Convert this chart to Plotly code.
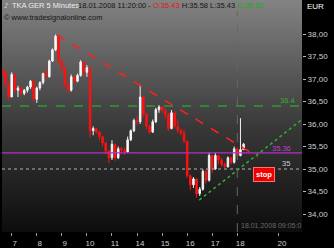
import plotly.graph_objects as go

# ---------------- data ----------------
day_labels = ['7', '8', '9', '10', '11', '14', '15', '16', '17', '18', '20']
day_positions = [0, 1, 2, 3, 4, 5, 6, 7, 8, 9, 10.66]   # trading-day index of each label

bar_start = -0.375          # first bar (trading-day index)
bar_step = 0.125            # bar spacing in trading days
first_open = 37.20

closes = [37.15, 36.90, 36.60, 37.10, 36.75, 36.80, 36.68, 36.75, 36.82, 36.95,
          36.55, 36.80, 36.92, 37.12, 37.05, 37.40, 37.65, 37.95, 37.40, 37.25,
          36.88, 36.75, 37.05, 36.95, 37.08, 37.38, 37.15, 37.25, 35.85, 35.90,
          35.82, 35.72, 35.58, 35.40, 35.25, 35.55, 35.25, 35.45, 35.42, 35.38,
          35.65, 35.85, 36.08, 36.05, 36.60, 36.22, 35.95, 35.82, 36.05, 36.32,
          36.38, 36.30, 36.22, 35.90, 36.25, 35.95, 35.85, 35.80, 35.62, 34.85,
          34.65, 34.78, 34.45, 34.55, 34.95, 34.75, 35.30, 35.00, 35.30, 35.20,
          35.10, 35.05, 35.25, 35.15, 35.45, 35.30, 35.43, 35.55]
highs = [37.25, 37.15, 36.90, 37.15, 37.10, 36.85, 36.82, 36.78, 36.85, 36.98,
         36.95, 36.83, 36.95, 37.14, 37.24, 37.43, 37.68, 37.99, 37.98, 37.42,
         37.25, 36.90, 37.10, 37.06, 37.12, 37.42, 37.38, 37.31, 37.25, 35.95,
         35.92, 35.85, 35.74, 35.60, 35.42, 35.64, 35.56, 35.50, 35.50, 35.48,
         35.72, 35.88, 36.12, 36.18, 36.87, 36.62, 36.25, 35.98, 36.10, 36.36,
         36.42, 36.40, 36.35, 36.25, 36.31, 36.28, 36.10, 35.90, 35.87, 35.62,
         34.88, 34.82, 34.78, 34.60, 34.99, 34.98, 35.36, 35.32, 35.36, 35.30,
         35.25, 35.15, 35.28, 35.27, 35.50, 35.48, 36.13, 35.58]
lows = [37.05, 36.85, 36.53, 36.60, 36.70, 36.60, 36.65, 36.64, 36.70, 36.78,
        36.50, 36.47, 36.75, 36.88, 37.00, 37.03, 37.38, 37.62, 37.35, 37.15,
        36.82, 36.69, 36.72, 36.90, 36.93, 37.05, 37.10, 37.05, 35.70, 35.75,
        35.78, 35.65, 35.50, 35.33, 35.13, 35.20, 35.18, 35.22, 35.33, 35.32,
        35.36, 35.62, 35.82, 35.98, 36.00, 36.15, 35.88, 35.78, 35.80, 36.02,
        36.25, 36.25, 36.12, 35.85, 35.88, 35.90, 35.80, 35.75, 35.58, 34.80,
        34.53, 34.58, 34.36, 34.40, 34.52, 34.68, 34.72, 34.91, 34.98, 35.10,
        35.05, 35.02, 35.03, 35.10, 35.12, 35.25, 35.28, 35.43]

opens = [first_open] + closes[:-1]
times = [bar_start + bar_step * i for i in range(len(closes))]

resistance_level = 36.4
entry_level = 35.36
stop_level = 35.0
down_trend = {'x': [1.807, 9.82], 'y': [37.98, 35.27]}
up_trend = {'x': [7.48, 11.58], 'y': [34.31, 36.10]}
session_mark = 9.0

x_range = [-0.387, 11.58]
y_range = [33.6, 38.756]

FONT = 'Liberation Sans'

fig = go.Figure()

# gradient background on the base axes
fig.add_trace(go.Scatter(
    x=[x_range[0], x_range[1], x_range[1], x_range[0], x_range[0]],
    y=[y_range[0], y_range[0], y_range[1], y_range[1], y_range[0]],
    fill='toself', mode='lines', line=dict(width=0),
    fillgradient=dict(type='vertical',
                      colorscale=[[0, '#0d0d0d'], [0.45, '#383838'], [1, '#838383']]),
    hoverinfo='skip', showlegend=False, xaxis='x', yaxis='y'))

# candles on an overlaying pair of axes so they sit above the background
fig.add_trace(go.Candlestick(
    x=times, open=opens, high=highs, low=lows, close=closes,
    increasing=dict(line=dict(color='#f2f2f2', width=1), fillcolor='#ffffff'),
    decreasing=dict(line=dict(color='#ff1010', width=1), fillcolor='#ff1010'),
    whiskerwidth=0, showlegend=False, xaxis='x2', yaxis='y2'))

shapes = [
    dict(type='line', xref='paper', x0=0, x1=1, yref='y', y0=resistance_level, y1=resistance_level,
         line=dict(color='#2e9a2e', width=1.5, dash='dash')),
    dict(type='line', xref='paper', x0=0, x1=1, yref='y', y0=entry_level, y1=entry_level,
         line=dict(color='#b52fc4', width=1.2)),
    dict(type='line', xref='paper', x0=0, x1=1, yref='y', y0=stop_level, y1=stop_level,
         line=dict(color='#b0b0b0', width=1, dash='dot')),
    dict(type='line', xref='x', yref='y', x0=down_trend['x'][0], x1=down_trend['x'][1],
         y0=down_trend['y'][0], y1=down_trend['y'][1],
         line=dict(color='#ff2020', width=1.5, dash='dash')),
    dict(type='line', xref='x', yref='y', x0=up_trend['x'][0], x1=up_trend['x'][1],
         y0=up_trend['y'][0], y1=up_trend['y'][1],
         line=dict(color='#2fb02f', width=1.5, dash='dot')),
    dict(type='line', xref='x', yref='paper', x0=session_mark, x1=session_mark, y0=0, y1=0.955,
         line=dict(color='#666666', width=1, dash='dash')),
]


def px(xp):
    return (xp - 2) / 300.0


def py(yp):
    return 1 - yp / 232.0


annotations = [
    dict(text='EUR', x=px(305), y=py(7), xanchor='left', yanchor='middle',
         font=dict(size=8, color='#ffffff', family=FONT)),
    dict(text='♪', x=px(2), y=py(6), xanchor='left', yanchor='middle',
         font=dict(size=7, color='#e0e0e0', family='DejaVu Sans')),
    dict(text='TKA GER 5 Minutes', x=px(10), y=py(6), xanchor='left', yanchor='middle',
         font=dict(size=7.5, color='#ececec', family=FONT)),
    dict(text="18.01.2008 11:20:00 - <span style='color:#e81010'>O:35.43</span> H:35.58 L:35.43 "
              "<span style='color:#18b018'>C:35.55</span>",
         x=px(76), y=py(6), xanchor='left', yanchor='middle',
         font=dict(size=7.5, color='#151515', family=FONT)),
    dict(text='© www.tradesignalonline.com', x=px(2), y=py(17), xanchor='left', yanchor='middle',
         font=dict(size=7.5, color='#151515', family=FONT)),
    dict(text='36.4', xref='x', yref='y', x=11.38, y=resistance_level, xanchor='right', yanchor='bottom',
         font=dict(size=7.5, color='#35b035', family=FONT), yshift=-1),
    dict(text='35.36', xref='x', yref='y', x=11.22, y=entry_level, xanchor='right', yanchor='bottom',
         font=dict(size=7.5, color='#c040d0', family=FONT), yshift=-2),
    dict(text='35', xref='x', yref='y', x=11.18, y=stop_level, xanchor='right', yanchor='bottom',
         font=dict(size=7.5, color='#c8c8c8', family=FONT), yshift=-1),
    dict(text='<b>stop</b>', xref='x', yref='y', x=10.06, y=34.87, xanchor='center', yanchor='middle',
         font=dict(size=7.5, color='#ffffff', family=FONT), bgcolor='#ee0000',
         bordercolor='#ff7070', borderwidth=1, borderpad=2),
    dict(text='18.01.2008 09:05:0', xref='x', yref='paper', x=session_mark + 0.05, y=0.005,
         xanchor='left', yanchor='bottom', font=dict(size=7, color='#6a6a6a', family=FONT)),
]
for a in annotations:
    a.setdefault('xref', 'paper')
    a.setdefault('yref', 'paper')
    a['showarrow'] = False

fig.update_layout(
    width=334, height=248,
    margin=dict(l=2, r=32, t=0, b=16),
    paper_bgcolor='#000000', plot_bgcolor='#000000',
    separators=',.',
    shapes=shapes, annotations=annotations,
    showlegend=False,
    xaxis=dict(range=x_range, tickvals=day_positions, ticktext=day_labels,
               ticks='outside', ticklen=3, tickcolor='#9a9a9a', ticklabelshift=3,
               tickfont=dict(size=8, color='#cfcfcf', family=FONT),
               showgrid=False, zeroline=False, showline=False, fixedrange=True),
    yaxis=dict(range=y_range, side='right', tickvals=[34, 34.5, 35, 35.5, 36, 36.5, 37, 37.5, 38],
               tickformat='.2f', ticks='outside', ticklen=3, tickcolor='#bbbbbb',
               tickfont=dict(size=8, color='#d0d0d0', family=FONT),
               showgrid=False, zeroline=False, showline=False, fixedrange=True),
    xaxis2=dict(range=x_range, overlaying='x', visible=False, fixedrange=True,
                rangeslider=dict(visible=False)),
    yaxis2=dict(range=y_range, overlaying='y', visible=False, fixedrange=True),
)

fig.write_html('out.html')
